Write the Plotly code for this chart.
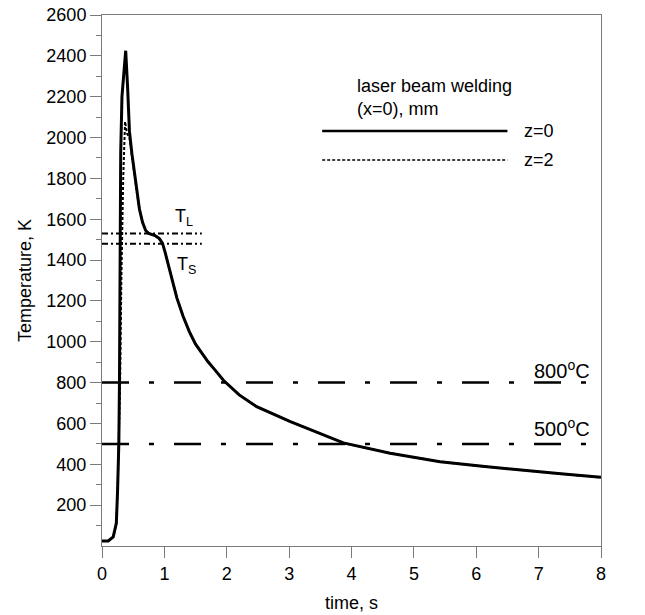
import plotly.graph_objects as go

# ---- data ----
time_z0 = [0, 0.10, 0.18, 0.23, 0.25, 0.27, 0.28, 0.29, 0.30, 0.32, 0.38, 0.41, 0.44, 0.48,
           0.52, 0.56, 0.60, 0.65, 0.70, 0.75, 0.85, 0.92, 0.97, 1.01, 1.05, 1.12, 1.20, 1.30,
           1.40, 1.50, 1.60, 1.70, 1.80, 1.95, 2.20, 2.48, 3.02, 3.50, 3.87, 4.62, 5.42, 6.10,
           6.76, 7.40, 8.0]
temp_z0 = [25, 25, 45, 112, 274, 504, 800, 1400, 1925, 2200, 2425, 2250, 2030, 1920,
           1820, 1730, 1650, 1585, 1545, 1530, 1520, 1505, 1482, 1440, 1395, 1305, 1215, 1125,
           1050, 988, 942, 902, 866, 810, 740, 682, 609, 550, 505, 454, 413, 390,
           369, 352, 336]

time_z2 = [0, 0.10, 0.18, 0.23, 0.25, 0.27, 0.29, 0.31, 0.34, 0.37, 0.40, 0.44, 0.48,
           0.52, 0.56, 0.60, 0.65, 0.70, 0.75, 0.85, 0.92, 0.97, 1.01, 1.05, 1.12, 1.20, 1.30,
           1.40, 1.50, 1.60, 1.70, 1.80, 1.95, 2.20, 2.48, 3.02, 3.50, 3.87, 4.62, 5.42, 6.10,
           6.76, 7.40, 8.0]
temp_z2 = [25, 25, 45, 110, 270, 480, 800, 1300, 1800, 2078, 2020, 2000, 1920,
           1820, 1730, 1650, 1585, 1545, 1530, 1520, 1505, 1482, 1440, 1395, 1305, 1215, 1125,
           1050, 988, 942, 902, 866, 810, 740, 682, 609, 550, 505, 454, 413, 390,
           369, 352, 336]

T_liquidus = 1530
T_solidus = 1480
phase_line_time = [0, 1.6]

crit_800 = 800
crit_500 = 500
crit_line_time = [0, 8]

y_tickvals = [200, 400, 600, 800, 1000, 1200, 1400, 1600, 1800, 2000, 2200, 2400, 2600]
y_minorvals = [100, 300, 500, 700, 900, 1100, 1300, 1500, 1700, 1900, 2100, 2300, 2500]
x_tickvals = [0, 1, 2, 3, 4, 5, 6, 7, 8]

FONT = "Liberation Sans, Arial, sans-serif"
AX = "#7a7a7a"

fig = go.Figure()

# reference lines
for yv in (crit_800, crit_500):
    fig.add_trace(go.Scatter(x=crit_line_time, y=[yv, yv], mode="lines",
                             line=dict(color="black", width=2.5, dash="27px,20px,5px,20px"),
                             showlegend=False, hoverinfo="skip"))
for yv in (T_liquidus, T_solidus):
    fig.add_trace(go.Scatter(x=phase_line_time, y=[yv, yv], mode="lines",
                             line=dict(color="black", width=2, dash="6px,3px,2px,3px"),
                             showlegend=False, hoverinfo="skip"))

# curves
fig.add_trace(go.Scatter(x=time_z2, y=temp_z2, mode="lines",
                         line=dict(color="black", width=2, dash="3px,2px"), name="z=2",
                         showlegend=False))
fig.add_trace(go.Scatter(x=time_z0, y=temp_z0, mode="lines",
                         line=dict(color="black", width=3), name="z=0", showlegend=False))

# legend-like block
fig.add_shape(type="line", xref="x", yref="y", x0=3.53, x1=6.5, y0=2032, y1=2032,
              line=dict(color="black", width=2.5))
fig.add_shape(type="line", xref="x", yref="y", x0=3.53, x1=6.5, y0=1890, y1=1890,
              line=dict(color="black", width=1.5, dash="3px,2px"))

ann_font = dict(family=FONT, size=18, color="black")
anns = [
    dict(x=4.06, y=2195, text="laser beam welding<br>(x=0), mm"),
    dict(x=6.74, y=2032, text="z=0"),
    dict(x=6.74, y=1890, text="z=2"),
    dict(x=1.14, y=1610, text="T<sub>L</sub>"),
    dict(x=1.17, y=1375, text="T<sub>S</sub>"),
]
for a in anns:
    fig.add_annotation(x=a["x"], y=a["y"], text=a["text"], xref="x", yref="y",
                       showarrow=False, xanchor="left", yanchor="middle", align="left",
                       font=ann_font)
for yv, txt in ((862, "800<sup>o</sup>C"), (578, "500<sup>o</sup>C")):
    fig.add_annotation(x=6.9, y=yv, text=txt, xref="x", yref="y", showarrow=False,
                       xanchor="left", yanchor="middle",
                       font=dict(family=FONT, size=20, color="black"))

fig.update_layout(
    width=645, height=615,
    margin=dict(l=102, r=44, t=15, b=69),
    paper_bgcolor="white", plot_bgcolor="white",
    font=dict(family=FONT, size=18, color="black"),
    showlegend=False,
)
fig.update_xaxes(range=[0, 8], tickvals=x_tickvals, ticks="outside", ticklen=11,
                 tickcolor=AX, showline=True, linecolor=AX, linewidth=1, mirror=True,
                 showgrid=False, zeroline=False, automargin=False,
                 ticklabeloverflow="allow",
                 title=dict(text="time, s", font=dict(size=18), standoff=13),
                 tickfont=dict(size=18))
fig.update_yaxes(range=[0, 2600], tickvals=y_tickvals, ticks="outside", ticklen=11,
                 tickcolor=AX, showline=True, linecolor=AX, linewidth=1, mirror=True,
                 showgrid=False, zeroline=False, automargin=False,
                 ticklabeloverflow="allow",
                 minor=dict(tickvals=y_minorvals, ticks="outside", ticklen=5, tickcolor=AX,
                            showgrid=False),
                 title=dict(text="Temperature, K", font=dict(size=18), standoff=10),
                 tickfont=dict(size=18))

fig.write_html("out.html", config={"displayModeBar": False},
               post_script="document.body.style.margin='0';document.body.style.overflow='hidden';")
